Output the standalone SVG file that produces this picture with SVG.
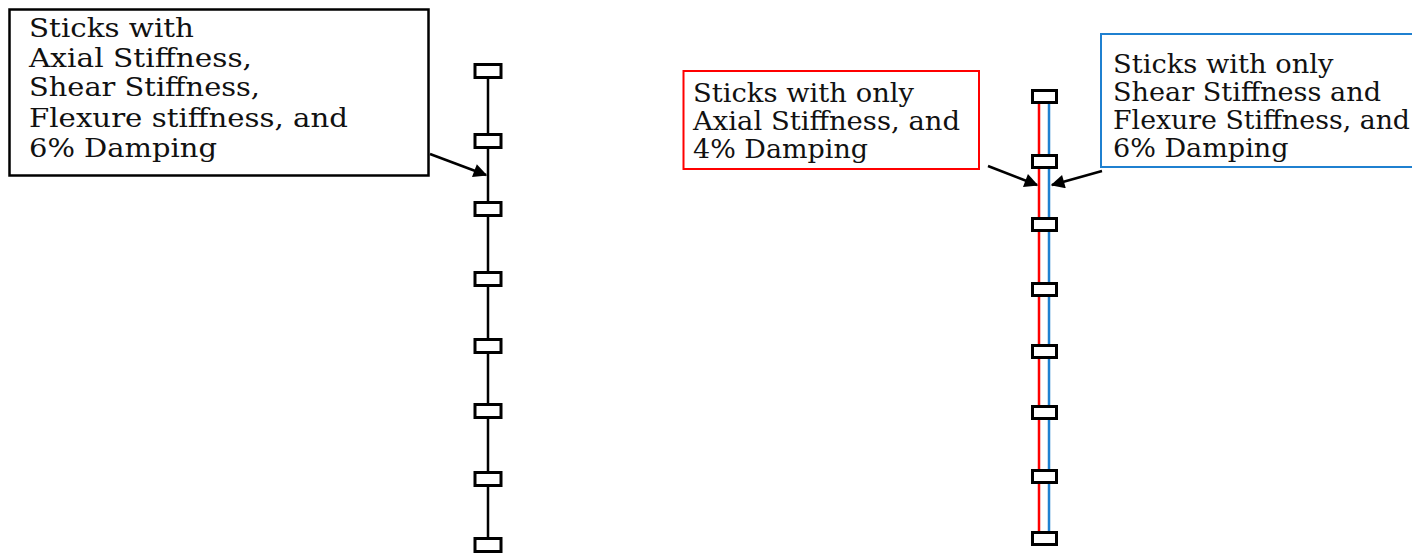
<svg xmlns="http://www.w3.org/2000/svg" width="1412" height="554" viewBox="0 0 1412 554">
<style>
  .lbl { font-family: "DejaVu Serif", "Liberation Serif", serif; fill: #111; }
  .l1 { font-size: 26.5px; }
  .l2 { font-size: 25.5px; }
  .node { fill: #fff; stroke: #000; stroke-width: 3; }
  .stick { stroke-width: 2.5; fill: none; }
  .arr { stroke: #000; stroke-width: 2.5; fill: none; marker-end: url(#ah); }
</style>
<defs>
  <marker id="ah" viewBox="0 0 10 10" refX="9" refY="5" markerWidth="6.5" markerHeight="5.5" markerUnits="strokeWidth" orient="auto">
    <path d="M0,0 L10,5 L0,10 z" fill="#000"/>
  </marker>
</defs>
<g id="connectors">
  <line class="stick" x1="488" y1="71" x2="488" y2="545" stroke="#000"/>
  <line class="stick" x1="1039" y1="97" x2="1039" y2="539" stroke="#ff0000"/>
  <line class="stick" x1="1049" y1="97" x2="1049" y2="539" stroke="#1f80d0"/>
  <line class="arr" x1="430" y1="154" x2="486" y2="175"/>
  <line class="arr" x1="988" y1="166" x2="1037" y2="185"/>
  <line class="arr" x1="1102" y1="171" x2="1052" y2="185"/>
</g>
<g id="left-stick-nodes">
  <rect class="node" x="475" y="64.5" width="26" height="13"/>
  <rect class="node" x="475" y="134.5" width="26" height="13"/>
  <rect class="node" x="475" y="202.5" width="26" height="13"/>
  <rect class="node" x="475" y="272.5" width="26" height="13"/>
  <rect class="node" x="475" y="339.5" width="26" height="13"/>
  <rect class="node" x="475" y="404.5" width="26" height="13"/>
  <rect class="node" x="475" y="472.5" width="26" height="13"/>
  <rect class="node" x="475" y="538.5" width="26" height="13"/>
</g>
<g id="right-stick-nodes">
  <rect class="node" x="1032.5" y="90.5" width="24" height="12"/>
  <rect class="node" x="1032.5" y="155.5" width="24" height="12"/>
  <rect class="node" x="1032.5" y="218.5" width="24" height="12"/>
  <rect class="node" x="1032.5" y="283.5" width="24" height="12"/>
  <rect class="node" x="1032.5" y="345.5" width="24" height="12"/>
  <rect class="node" x="1032.5" y="406.5" width="24" height="12"/>
  <rect class="node" x="1032.5" y="470.5" width="24" height="12"/>
  <rect class="node" x="1032.5" y="532.5" width="24" height="12"/>
</g>
<g id="label-full">
  <rect x="9.5" y="9.5" width="419" height="166" fill="#fff" stroke="#000" stroke-width="2.5"/>
  <text class="lbl l1" x="29" y="37" textLength="165" lengthAdjust="spacingAndGlyphs">Sticks with</text>
  <text class="lbl l1" x="29" y="66.5" textLength="223" lengthAdjust="spacingAndGlyphs">Axial Stiffness,</text>
  <text class="lbl l1" x="29" y="96" textLength="231" lengthAdjust="spacingAndGlyphs">Shear Stiffness,</text>
  <text class="lbl l1" x="29" y="126.5" textLength="319" lengthAdjust="spacingAndGlyphs">Flexure stiffness, and</text>
  <text class="lbl l1" x="29" y="156.5" textLength="188" lengthAdjust="spacingAndGlyphs">6% Damping</text>
</g>
<g id="label-axial">
  <rect x="683.5" y="71" width="295.5" height="98" fill="#fff" stroke="#ff0000" stroke-width="2"/>
  <text class="lbl l2" x="693" y="101.5" textLength="221" lengthAdjust="spacingAndGlyphs">Sticks with only</text>
  <text class="lbl l2" x="693" y="130" textLength="267" lengthAdjust="spacingAndGlyphs">Axial Stiffness, and</text>
  <text class="lbl l2" x="693" y="158" textLength="175" lengthAdjust="spacingAndGlyphs">4% Damping</text>
</g>
<g id="label-shear">
  <rect x="1101" y="34" width="330" height="133" fill="#fff" stroke="#1f80d0" stroke-width="2"/>
  <text class="lbl l2" x="1113" y="73" textLength="220.5" lengthAdjust="spacingAndGlyphs">Sticks with only</text>
  <text class="lbl l2" x="1113" y="100.5" textLength="268" lengthAdjust="spacingAndGlyphs">Shear Stiffness and</text>
  <text class="lbl l2" x="1113" y="128.5" textLength="297" lengthAdjust="spacingAndGlyphs">Flexure Stiffness, and</text>
  <text class="lbl l2" x="1113" y="156.5" textLength="175.5" lengthAdjust="spacingAndGlyphs">6% Damping</text>
</g>
</svg>
